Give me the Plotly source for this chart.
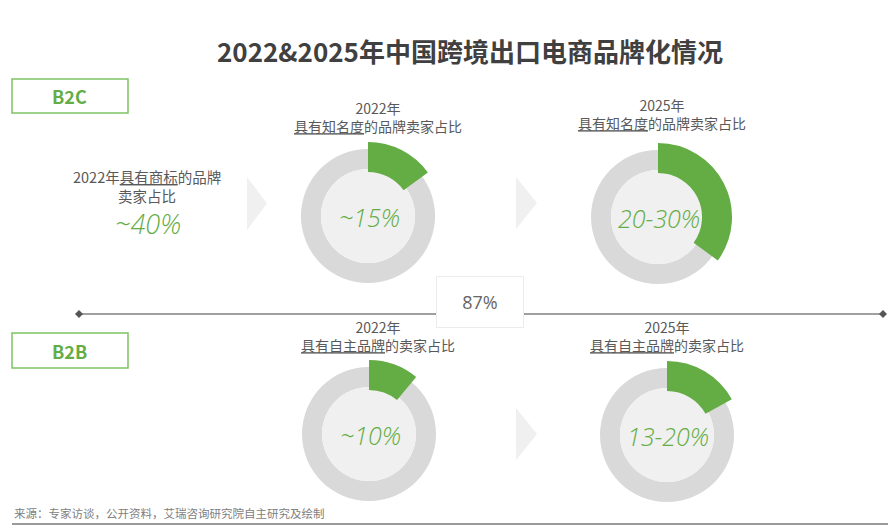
import plotly.graph_objects as go

# page body has an 8px margin, so the figure is shifted by that amount
OX, OY = 8, 8
W, H = 896 - OX, 528 - OY

# data
years = ["2022年", "2025年"]
b2c_values = [15, 35]          # drawn share of green arc (%)
b2c_labels = ["~15%", "20-30%"]
b2b_values = [11, 17]
b2b_labels = ["~10%", "13-20%"]
trademark_label = "~40%"

GREEN = "#64ad45"
RING = "#d9d9d9"
INNER = "#f0f0f0"
TXT = "#595959"
CJK = "Noto Sans CJK SC"
NUM = "Open Sans, Noto Sans CJK SC"


def fx(x):
    return (x - OX) / W


def fy(y):
    return 1 - (y - OY) / H


def dom(cx, cy, r):
    return dict(x=[fx(cx - r), fx(cx + r)], y=[fy(cy + r), fy(cy - r)])


def add_donut(fig, cx, cy, value):
    # grey ring
    fig.add_trace(go.Pie(values=[1], marker=dict(colors=[RING], line=dict(width=0)),
                         hole=47 / 67, domain=dom(cx, cy, 67), sort=False,
                         textinfo="none", hoverinfo="skip", showlegend=False))
    # light centre
    fig.add_trace(go.Pie(values=[1], marker=dict(colors=[INNER], line=dict(width=0)),
                         domain=dom(cx, cy, 47), sort=False,
                         textinfo="none", hoverinfo="skip", showlegend=False))
    # green share, thicker than the ring
    fig.add_trace(go.Pie(values=[value, 100 - value],
                         marker=dict(colors=[GREEN, "rgba(0,0,0,0)"], line=dict(width=0)),
                         hole=44 / 74, domain=dom(cx, cy, 74), sort=False,
                         direction="clockwise", rotation=0,
                         textinfo="none", hoverinfo="skip", showlegend=False))


fig = go.Figure()

centres = [(368, 216), (658, 217), (369, 434), (667, 435)]
values = b2c_values + b2b_values
for (cx, cy), v in zip(centres, values):
    add_donut(fig, cx, cy, v)

annotations = []


def txt(x, y, text, size, color=TXT, family=CJK, xanchor="center", weight="normal", **kw):
    annotations.append(dict(x=fx(x), y=fy(y), xref="paper", yref="paper",
                            text=text, showarrow=False, xanchor=xanchor, yanchor="middle",
                            font=dict(size=size, color=color, family=family, weight=weight),
                            **kw))


# title
txt(470, 50, "<b>2022&2025年中国跨境出口电商品牌化情况</b>", 26, color="#404040")

# section labels
txt(70, 96, "<b>B2C</b>", 18, color=GREEN)
txt(70, 351, "<b>B2B</b>", 18, color=GREEN)

# left note
txt(147, 186, "2022年<u>具有商标</u>的品牌<br>卖家占比", 14.5)
txt(148, 223, "<i>" + trademark_label + "</i>", 27, color=GREEN, family=NUM, weight=350)

# donut headings
txt(378, 117, years[0] + "<br><u>具有知名度</u>的品牌卖家占比", 14)
txt(662, 114, years[1] + "<br><u>具有知名度</u>的品牌卖家占比", 14)
txt(378, 336, years[0] + "<br><u>具有自主品牌</u>的卖家占比", 14)
txt(667, 336, years[1] + "<br><u>具有自主品牌</u>的卖家占比", 14)

# centre values
for (cx, cy), lab in zip(centres, b2c_labels + b2b_labels):
    txt(cx + 1, cy + 1, "<i>" + lab + "</i>", 25, color=GREEN, family=NUM, weight=350)

# source
txt(12, 513, "来源：专家访谈，公开资料，艾瑞咨询研究院自主研究及绘制", 11.5,
    color="#808080", xanchor="left")

# zoom badge
annotations.append(dict(x=fx(480), y=fy(302), xref="paper", yref="paper", text="87%",
                        showarrow=False, width=84, height=48, bgcolor="white",
                        bordercolor="#ececec", borderwidth=1,
                        font=dict(size=18, color="#666666", family="Open Sans")))

shapes = []
# boxes
for y0, y1 in [(79, 113), (333, 368)]:
    shapes.append(dict(type="rect", xref="paper", yref="paper",
                       x0=fx(12), x1=fx(128), y0=fy(y1), y1=fy(y0),
                       line=dict(color="#7dc462", width=1.5), fillcolor="white"))
# chevrons
for x0, x1, y0, y1 in [(247, 267, 177, 230), (516, 537, 177, 229), (516, 537, 408, 460)]:
    path = "M {} {} L {} {} L {} {} Z".format(fx(x0), fy(y0), fx(x1), fy((y0 + y1) / 2),
                                             fx(x0), fy(y1))
    shapes.append(dict(type="path", xref="paper", yref="paper", path=path,
                       fillcolor="#f0f0f0", line=dict(width=0), layer="below"))
# divider line with diamond ends
shapes.append(dict(type="line", xref="paper", yref="paper", x0=fx(79), x1=fx(883),
                   y0=fy(314), y1=fy(314), line=dict(color="#808080", width=1.5)))
for x in (79, 883):
    d = 4
    path = "M {} {} L {} {} L {} {} L {} {} Z".format(fx(x - d), fy(314), fx(x), fy(314 - d),
                                                       fx(x + d), fy(314), fx(x), fy(314 + d))
    shapes.append(dict(type="path", xref="paper", yref="paper", path=path,
                       fillcolor="#555555", line=dict(width=0)))
# bottom rule
shapes.append(dict(type="line", xref="paper", yref="paper", x0=fx(12), x1=1,
                   y0=fy(524), y1=fy(524), line=dict(color="#9a9a9a", width=2)))

fig.update_layout(width=W, height=H, margin=dict(l=0, r=0, t=0, b=0),
                  paper_bgcolor="white", plot_bgcolor="white",
                  shapes=shapes, annotations=annotations, showlegend=False)

fig.write_html("out.html")
